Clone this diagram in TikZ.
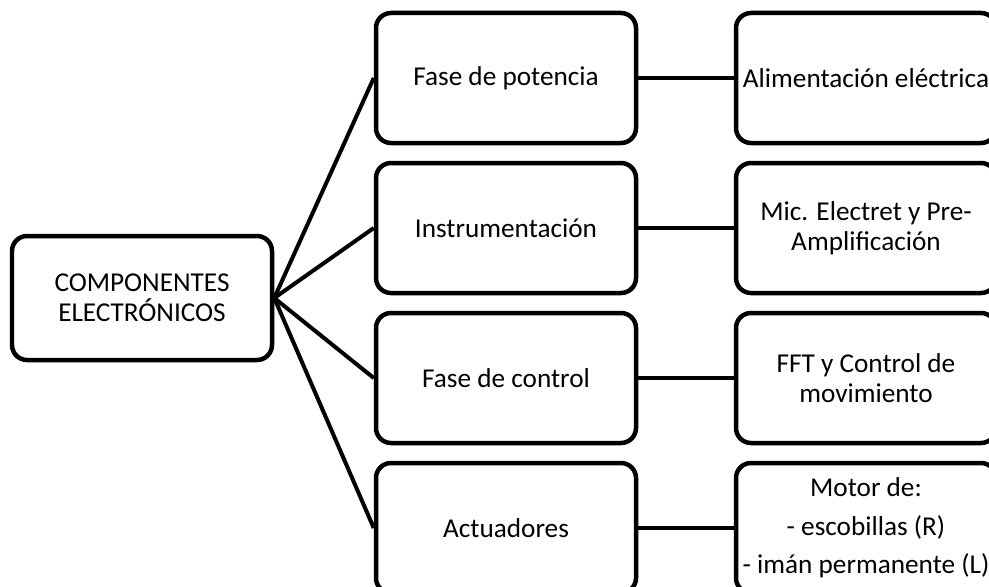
\documentclass[tikz,border=0pt]{standalone}
\usepackage{fontspec}
\setmainfont{Carlito}
\usetikzlibrary{positioning}

\tikzset{
    blockbox/.style={draw, line width=0.09cm, rounded corners=0.3cm, minimum width=5.2cm,
        minimum height=2.6cm, align=center, font=\fontsize{15.5}{17}\selectfont},
    link/.style={line width=0.08cm}
}

\begin{document}
\begin{tikzpicture}
    \useasboundingbox (0,0) rectangle (19.78,-11.72);
    \clip (0,0) rectangle (19.78,-11.72);
    % main block
    \node[blockbox, minimum height=2.48cm] (comp) at (2.84,-5.96) {COMPONENTES\\ELECTRÓNICOS};
    % middle column
    \node[blockbox] (pot) at (10.12,-1.56) {Fase de potencia};
    \node[blockbox, below=0.31cm of pot] (inst) {Instrumentación};
    \node[blockbox, below=0.31cm of inst] (ctrl) {Fase de control};
    \node[blockbox, below=0.31cm of ctrl] (act) {Actuadores};
    % right column
    \node[blockbox, right=1.91cm of pot] (alim) {Alimentación eléctrica};
    \node[blockbox, right=1.91cm of inst] (mic) {Mic. Electret y Pre-\\Amplificación};
    \node[blockbox, right=1.91cm of ctrl] (fft) {FFT y Control de\\movimiento};
    \node[blockbox, right=1.91cm of act, font=\fontsize{15.5}{22}\selectfont] (motor)
        {Motor de:\\- escobillas (R)\\- imán permanente (L)};
    \foreach \n/\m in {pot/alim, inst/mic, ctrl/fft, act/motor} {
        \draw[link] (comp.east) -- (\n.west);
        \draw[link] (\n.east) -- (\m.west);
    }
\end{tikzpicture}
\end{document}
